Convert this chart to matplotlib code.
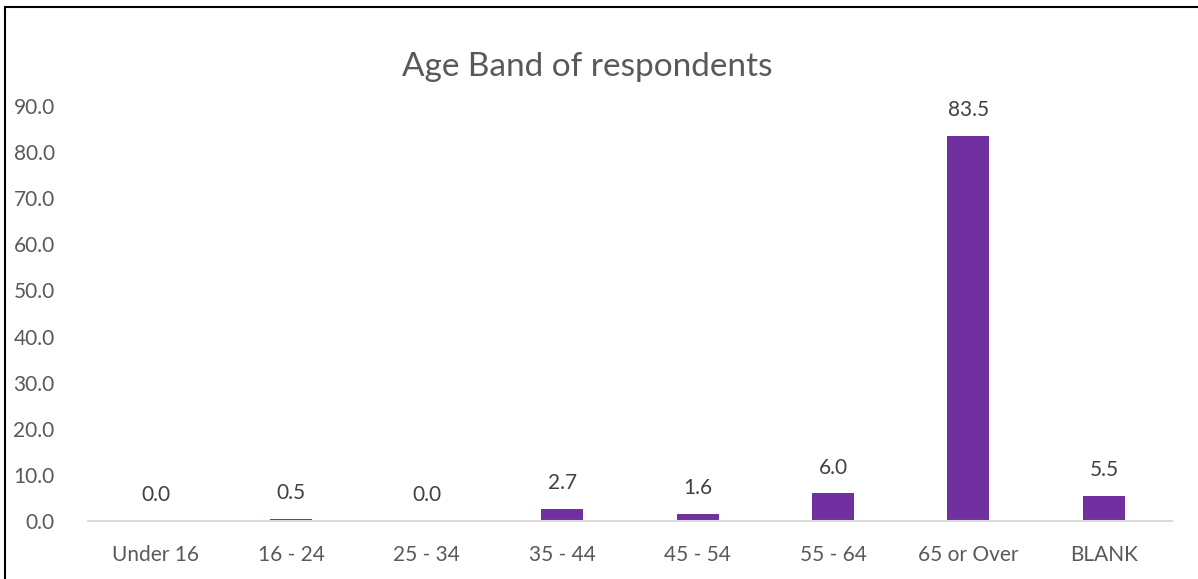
import matplotlib.pyplot as plt
from matplotlib.patches import Rectangle
import numpy as np

categories = ["Under 16", "16 - 24", "25 - 34", "35 - 44", "45 - 54", "55 - 64", "65 or Over", "BLANK"]
values = [0.0, 0.5, 0.0, 2.7, 1.6, 6.0, 83.5, 5.5]
yticks = [0, 10, 20, 30, 40, 50, 60, 70, 80, 90]

plt.rcParams['font.family'] = ['Lato', 'DejaVu Sans']
grey = '#595959'

fig = plt.figure(figsize=(11.98, 5.79), dpi=100)
ax = fig.add_axes([0.0735, 0.1, 0.9045, 0.717])

x = np.arange(len(categories))
ax.bar(x, values, width=0.31, color='#7030A0')
for xi, v in zip(x, values):
    ax.text(xi, v + 5.6, f"{v:.1f}", ha='center', va='center', fontsize=15, color='#404040')

ax.set_xlim(-0.5, len(categories) - 0.5)
ax.set_ylim(0, 90)
ax.set_yticks(yticks)
ax.set_yticklabels([f"{t:.1f}" for t in yticks], fontsize=15, color=grey)
ax.set_xticks(x)
ax.set_xticklabels(categories, fontsize=15, color=grey)
ax.tick_params(axis='both', length=0)
ax.tick_params(axis='y', pad=24)
ax.tick_params(axis='x', pad=17)
for s in ['top', 'right', 'left']:
    ax.spines[s].set_visible(False)
ax.spines['bottom'].set_color('#D9D9D9')
ax.spines['bottom'].set_linewidth(1.5)

fig.text(0.49, 0.884, "Age Band of respondents", ha='center', va='center', fontsize=24, color=grey)

# outer chart frame, cut by the image edge on the right and bottom
fig.patches.append(Rectangle((5 / 1198, -0.05), 1.2, 1 - 7 / 579 + 0.05, transform=fig.transFigure,
                             fill=False, edgecolor='black', linewidth=1.5))

fig.savefig('out.png', dpi=100)
